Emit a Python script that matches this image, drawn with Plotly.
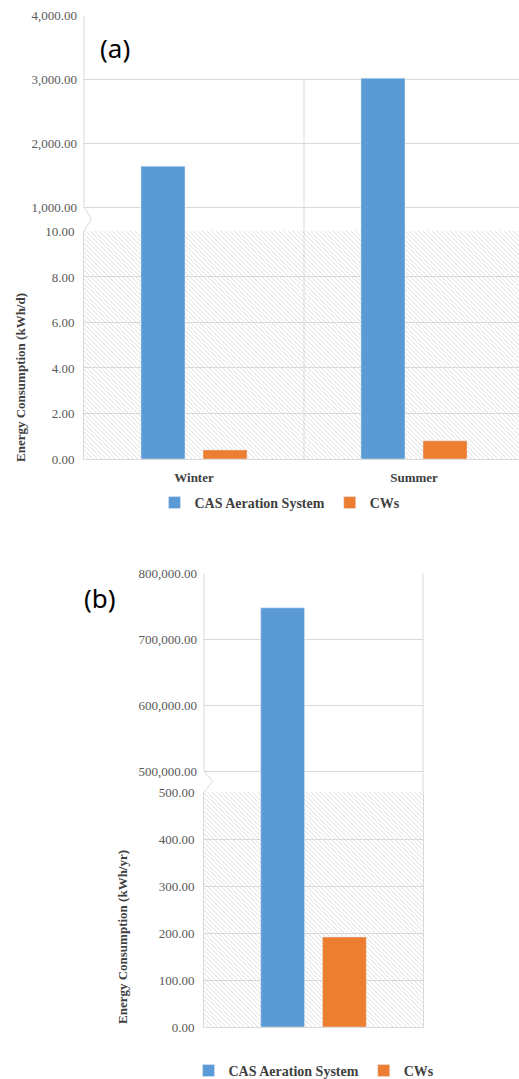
import plotly.graph_objects as go

# ---------------- data ----------------
seasons = ["Winter", "Summer"]
cas_daily = [1640.0, 3020.0]      # kWh/d, CAS aeration system
cws_daily = [0.40, 0.80]          # kWh/d, constructed wetlands
annual_cat = ["Annual"]
cas_annual = [748000.0]           # kWh/yr
cws_annual = [192.0]              # kWh/yr

series_names = ["CAS Aeration System", "CWs"]
colors = ["#5B9BD5", "#ED7D31"]

ticks_a_up = [1000, 2000, 3000, 4000]
ticks_a_lo = [0, 2, 4, 6, 8, 10]
ticks_b_up = [500000, 600000, 700000, 800000]
ticks_b_lo = [0, 100, 200, 300, 400, 500]

# ---------------- layout geometry (pixels) ----------------
W, H = 519, 1079
def px(x): return x / W
def py(y): return 1 - y / H

GRID = "#D9D9D9"
TICKC = "#595959"
DARK = "#404040"
SERIF = "Liberation Serif, Times New Roman, serif"

# panel (a)
a_left, a_right = 84, 519
a_top, a_brk_hi, a_brk_lo, a_bot = 15, 207, 231, 459
a_catw = 220.0
a_ppu = (a_brk_hi - a_top) / (ticks_a_up[-1] - ticks_a_up[0])
a_up_lo = ticks_a_up[0] - (a_brk_lo - a_brk_hi) / a_ppu
a_up_hi = ticks_a_up[-1] + 0.6 / a_ppu

# panel (b)
b_left, b_right = 204, 423
b_top, b_brk_hi, b_brk_lo, b_bot = 573, 771, 792, 1027
b_ppu = (b_brk_hi - b_top) / (ticks_b_up[-1] - ticks_b_up[0])
b_up_lo = ticks_b_up[0] - (b_brk_lo - b_brk_hi) / b_ppu
b_up_hi = ticks_b_up[-1] + 0.6 / b_ppu

fig = go.Figure()

# ---------------- traces ----------------
for i, (name, vals, col) in enumerate(zip(series_names, [cas_daily, cws_daily], colors)):
    fig.add_trace(go.Bar(x=seasons, y=vals, name=name, marker_color=col,
                         xaxis="x", yaxis="y", legend="legend", legendgroup=f"a{i}",
                         showlegend=True))
    fig.add_trace(go.Bar(x=seasons, y=vals, name=name, marker_color=col,
                         xaxis="x2", yaxis="y2", legendgroup=f"a{i}", showlegend=False))
for i, (name, vals, col) in enumerate(zip(series_names, [cas_annual, cws_annual], colors)):
    fig.add_trace(go.Bar(x=annual_cat, y=vals, name=name, marker_color=col,
                         xaxis="x3", yaxis="y3", legend="legend2", legendgroup=f"b{i}",
                         showlegend=True))
    fig.add_trace(go.Bar(x=annual_cat, y=vals, name=name, marker_color=col,
                         xaxis="x4", yaxis="y4", legendgroup=f"b{i}", showlegend=False))

# ---------------- hatching & decorations ----------------
def hatch(xref, yref, wpx, hpx, step=4.5, color="#DADADA"):
    out = []
    c = -hpx
    while c < wpx:
        u1 = max(0.0, c)
        u2 = min(wpx, hpx + c)
        if u2 > u1:
            out.append(dict(type="line", xref=xref, yref=yref,
                            x0=u1 / wpx, y0=1 - (u1 - c) / hpx,
                            x1=u2 / wpx, y1=1 - (u2 - c) / hpx,
                            line=dict(color=color, width=0.9), layer="below"))
        c += step
    return out

shapes = []
shapes += hatch("x2 domain", "y2 domain", a_right - a_left, a_bot - a_brk_lo)
shapes += hatch("x4 domain", "y4 domain", b_right - b_left, b_bot - b_brk_lo)

# panel (a): left axis line in upper part + break mark
shapes.append(dict(type="line", xref="x domain", yref="y", x0=0, x1=0,
                   y0=ticks_a_up[0], y1=ticks_a_up[-1], line=dict(color=GRID, width=1)))
a_tip = 7.5 / (a_right - a_left)
shapes.append(dict(type="path", xref="x domain", yref="y",
                   path=f"M 0,{ticks_a_up[0]} L {a_tip},{(ticks_a_up[0] + a_up_lo) / 2} L 0,{a_up_lo}",
                   line=dict(color=GRID, width=1)))
# vertical separator between categories
shapes.append(dict(type="line", xref="x2", yref="y2 domain", x0=0.5, x1=0.5, y0=0, y1=1,
                   line=dict(color=GRID, width=1)))
shapes.append(dict(type="line", xref="x", yref="y", x0=0.5, x1=0.5, y0=a_up_lo, y1=3000,
                   line=dict(color=GRID, width=1)))

# panel (b): left axis line upper + break mark + right border
shapes.append(dict(type="line", xref="x3 domain", yref="y3", x0=0, x1=0,
                   y0=ticks_b_up[0], y1=ticks_b_up[-1], line=dict(color=GRID, width=1)))
b_tip = 8.7 / (b_right - b_left)
shapes.append(dict(type="path", xref="x3 domain", yref="y3",
                   path=f"M 0,{ticks_b_up[0]} L {b_tip},{(ticks_b_up[0] + b_up_lo) / 2} L 0,{b_up_lo}",
                   line=dict(color=GRID, width=1)))
shapes.append(dict(type="line", xref="x3 domain", yref="y3 domain", x0=1, x1=1, y0=0, y1=1,
                   line=dict(color=GRID, width=1)))

tickfont = dict(family=SERIF, size=13, color=TICKC)
legfont = dict(family=SERIF, size=14, color=DARK, weight="bold")

fig.update_layout(
    width=W, height=H,
    margin=dict(l=0, r=0, t=0, b=0, autoexpand=False),
    paper_bgcolor="white", plot_bgcolor="rgba(0,0,0,0)",
    barmode="group", bargap=0.436, bargroupgap=0.29,
    shapes=shapes,
    xaxis=dict(domain=[px(a_left), px(a_right)], anchor="y", range=[-0.5, -0.5 + (a_right - a_left) / a_catw],
               showticklabels=False, showgrid=False, showline=False, zeroline=False, ticks=""),
    yaxis=dict(domain=[py(a_brk_lo), py(a_top)], anchor="x", range=[a_up_lo, a_up_hi],
               tickvals=ticks_a_up, tickformat=",.2f", gridcolor=GRID, gridwidth=1,
               showline=False, zeroline=False, ticks="", tickfont=tickfont, ticklabelstandoff=6),
    xaxis2=dict(domain=[px(a_left), px(a_right)], anchor="y2", range=[-0.5, -0.5 + (a_right - a_left) / a_catw],
                showgrid=False, showline=True, linecolor=GRID, linewidth=1, zeroline=False, ticks="",
                tickfont=dict(family=SERIF, size=13, color=DARK, weight="bold"), ticklabelstandoff=6),
    yaxis2=dict(domain=[py(a_bot), py(a_brk_lo)], anchor="x2", range=[0, 10.02],
                tickvals=ticks_a_lo, tickformat=".2f", gridcolor=GRID, gridwidth=1,
                showline=True, linecolor=GRID, zeroline=False, ticks="", tickfont=tickfont, ticklabelstandoff=6),
    xaxis3=dict(domain=[px(b_left), px(b_right)], anchor="y3", range=[-0.5, 0.5],
                showticklabels=False, showgrid=False, showline=False, zeroline=False, ticks=""),
    yaxis3=dict(domain=[py(b_brk_lo), py(b_top)], anchor="x3", range=[b_up_lo, b_up_hi],
                tickvals=ticks_b_up, tickformat=",.2f", gridcolor=GRID, gridwidth=1,
                showline=False, zeroline=False, ticks="", tickfont=tickfont, ticklabelstandoff=6),
    xaxis4=dict(domain=[px(b_left), px(b_right)], anchor="y4", range=[-0.5, 0.5],
                showticklabels=False, showgrid=False, showline=True, linecolor=GRID, zeroline=False, ticks=""),
    yaxis4=dict(domain=[py(b_bot), py(b_brk_lo)], anchor="x4", range=[0, 501],
                tickvals=ticks_b_lo, tickformat=".2f", gridcolor=GRID, gridwidth=1,
                showline=True, mirror=True, linecolor=GRID, zeroline=False, ticks="",
                tickfont=tickfont, ticklabelstandoff=6),
    legend=dict(orientation="h", x=px(280), y=py(503), xanchor="center", yanchor="middle",
                font=legfont, itemwidth=30, tracegroupgap=0,
                bgcolor="rgba(0,0,0,0)", itemclick=False, itemdoubleclick=False),
    legend2=dict(orientation="h", x=px(314), y=py(1071), xanchor="center", yanchor="middle",
                 font=legfont, itemwidth=30, tracegroupgap=0,
                 bgcolor="rgba(0,0,0,0)", itemclick=False, itemdoubleclick=False),
    annotations=[
        dict(text="(a)", x=px(98), y=py(48), xref="paper", yref="paper", xanchor="left", yanchor="middle",
             showarrow=False, font=dict(family="Noto Sans", size=26, color="black")),
        dict(text="(b)", x=px(82), y=py(598), xref="paper", yref="paper", xanchor="left", yanchor="middle",
             showarrow=False, font=dict(family="Noto Sans", size=26, color="black")),
        dict(text="Energy Consumption (kWh/d)", x=px(20), y=py(378), xref="paper", yref="paper",
             xanchor="center", yanchor="middle", textangle=-90, showarrow=False,
             font=dict(family=SERIF, size=13, color=DARK, weight="bold")),
        dict(text="Energy Consumption (kWh/yr)", x=px(122), y=py(937), xref="paper", yref="paper",
             xanchor="center", yanchor="middle", textangle=-90, showarrow=False,
             font=dict(family=SERIF, size=13, color=DARK, weight="bold")),
    ],
)

fig.write_html("out.html", config={"displayModeBar": False},
               post_script="document.body.style.margin='0';document.body.style.overflow='hidden';")
